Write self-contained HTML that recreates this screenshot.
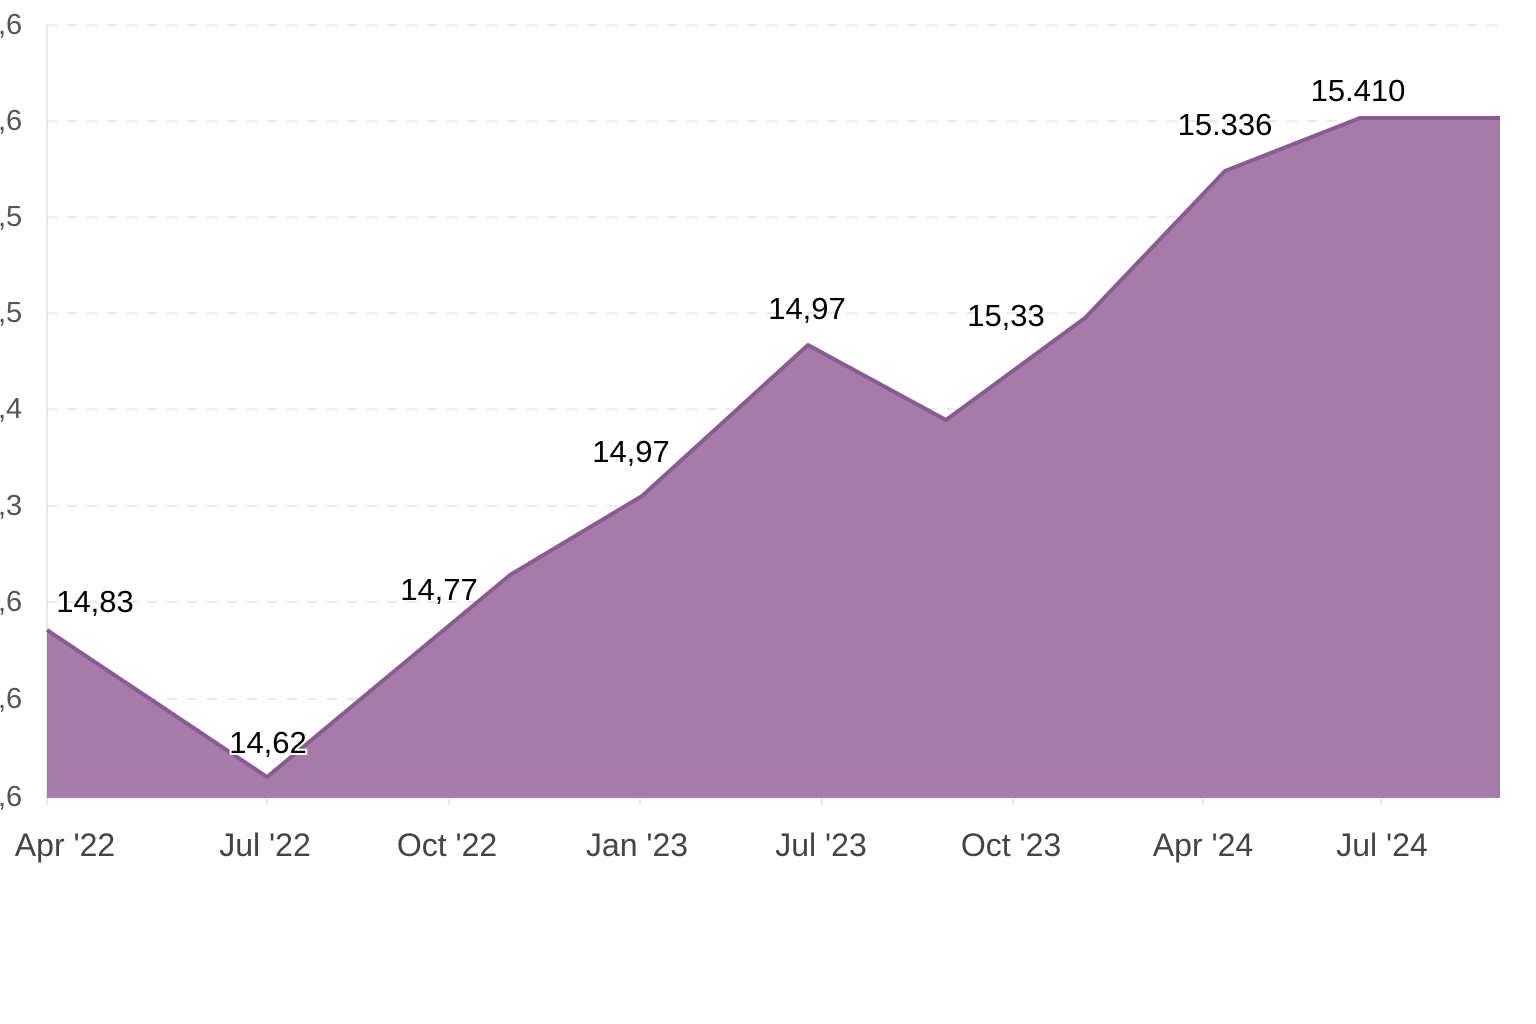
<!DOCTYPE html>
<html><head><meta charset="utf-8"><style>
body{margin:0;background:#fff}
svg{display:block}
text{font-family:"Liberation Sans",sans-serif}
</style></head><body>
<svg width="1536" height="1024" viewBox="0 0 1536 1024">
<g stroke="#e3e3e3" stroke-width="1.5" stroke-dasharray="10,10">
<line x1="47" y1="25" x2="1500" y2="25"/><line x1="47" y1="121" x2="1500" y2="121"/>
<line x1="47" y1="217" x2="1500" y2="217"/><line x1="47" y1="313" x2="1500" y2="313"/>
<line x1="47" y1="409" x2="1500" y2="409"/><line x1="47" y1="506" x2="1500" y2="506"/>
<line x1="47" y1="602" x2="1500" y2="602"/><line x1="47" y1="699" x2="1500" y2="699"/>
</g>
<line x1="47" y1="25" x2="47" y2="797" stroke="#e0e0e0" stroke-width="1.5"/>
<g stroke="#e0e0e0" stroke-width="1.5">
<line x1="47" y1="797" x2="47" y2="805"/><line x1="267" y1="797" x2="267" y2="805"/>
<line x1="449" y1="797" x2="449" y2="805"/><line x1="640" y1="797" x2="640" y2="805"/>
<line x1="822" y1="797" x2="822" y2="805"/><line x1="1013" y1="797" x2="1013" y2="805"/>
<line x1="1203" y1="797" x2="1203" y2="805"/><line x1="1381" y1="797" x2="1381" y2="805"/>
</g>
<path d="M47,630 L267,777 L510,575 L642,496 L808,345 L946,420 L1085,318 L1225,171 L1360,118 L1500,118 L1500,797 L47,797 Z" fill="#a67baa"/>
<path d="M47,630 L267,777 L510,575 L642,496 L808,345 L946,420 L1085,318 L1225,171 L1360,118 L1500,118" fill="none" stroke="#8a5a92" stroke-width="4" stroke-linejoin="round"/>
<line x1="47" y1="797" x2="1500" y2="797" stroke="#b07ab5" stroke-width="2"/>
<g fill="#555" font-size="29">
<text x="-2" y="34">,6</text><text x="-2" y="130">,6</text><text x="-2" y="226">,5</text>
<text x="-2" y="322">,5</text><text x="-2" y="418">,4</text><text x="-2" y="515">,3</text>
<text x="-2" y="611">,6</text><text x="-2" y="708">,6</text><text x="-2" y="806">,6</text>
</g>
<g fill="#444" font-size="32" text-anchor="middle">
<text x="65" y="856">Apr '22</text><text x="265" y="856">Jul '22</text>
<text x="447" y="856">Oct '22</text><text x="637" y="856">Jan '23</text>
<text x="821" y="856">Jul '23</text><text x="1011" y="856">Oct '23</text>
<text x="1203" y="856">Apr '24</text><text x="1382" y="856">Jul '24</text>
</g>
<g fill="#000" font-size="31" text-anchor="middle">
<text x="95" y="612">14,83</text>
<text x="268" y="753" stroke="#fff" stroke-width="4" paint-order="stroke">14,62</text>
<text x="439" y="600">14,77</text>
<text x="631" y="462">14,97</text>
<text x="807" y="319">14,97</text>
<text x="1006" y="326">15,33</text>
<text x="1225" y="135">15.336</text>
<text x="1358" y="101">15.410</text>
</g>
</svg>
</body></html>
